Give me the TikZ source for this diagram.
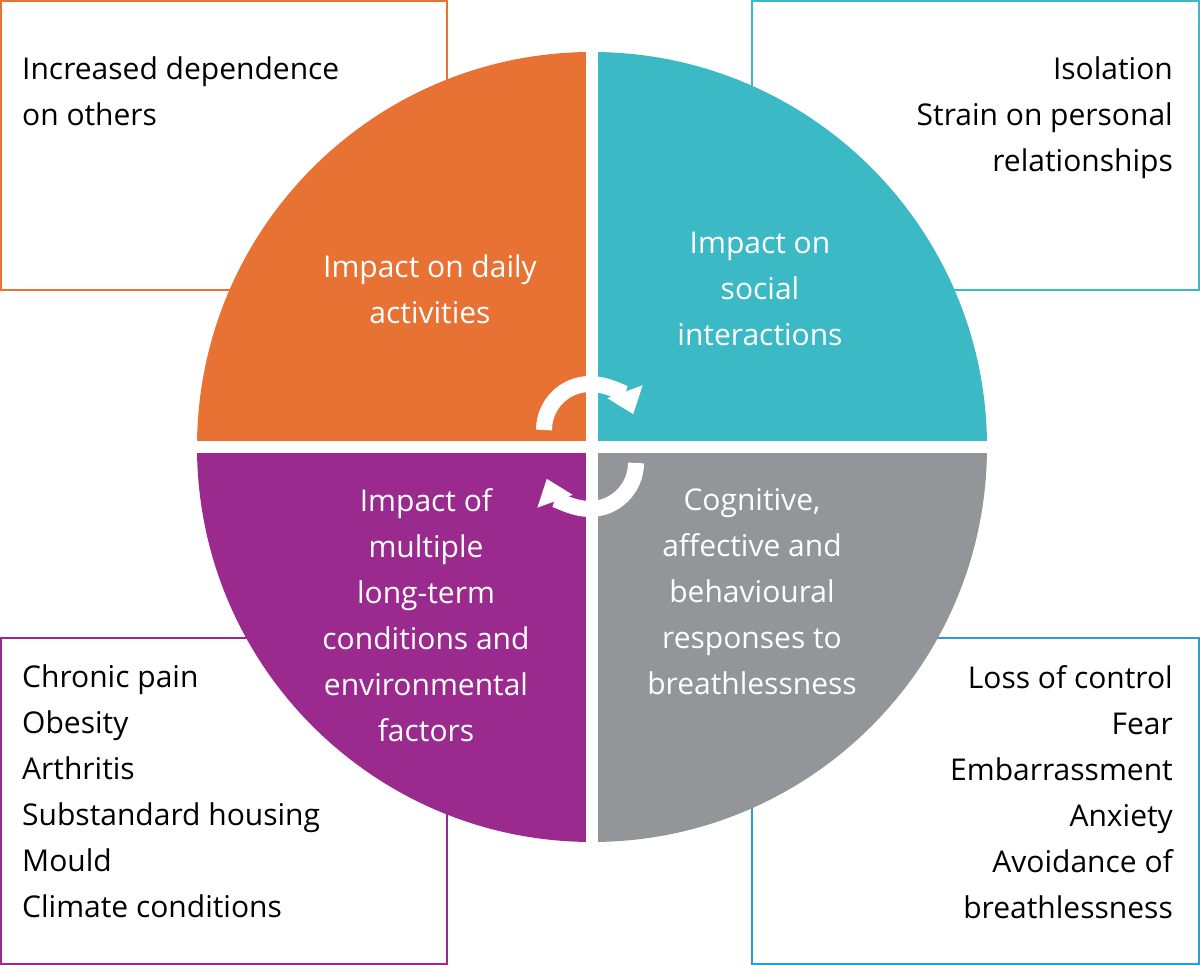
\documentclass[tikz,border=0pt]{standalone}
\usepackage{fontspec}
\setmainfont{Open Sans}
\usetikzlibrary{arrows.meta,calc}
\definecolor{cor}{HTML}{E87234}
\definecolor{cte}{HTML}{3BBAC5}
\definecolor{cpu}{HTML}{9B2A8E}
\definecolor{cgr}{HTML}{939598}
\definecolor{cbl}{HTML}{2A9FD6}
\begin{document}
\begin{tikzpicture}[x=1pt,y=1pt,
  box/.style={draw=#1,line width=2pt,fill=white},
  txt/.style={font=\fontsize{30}{46}\selectfont,inner sep=0pt},
  qt/.style={txt,text=white,align=center},
  arr/.style={white,line width=16pt,-{Triangle[length=24pt,width=36pt]}}]
\useasboundingbox (0,0) rectangle (1200,965);
\draw[box=cor] (1,675) rectangle (447,964);
\draw[box=cte] (752,675) rectangle (1199,964);
\draw[box=cpu] (1,1) rectangle (447,327);
\draw[box=cbl] (752,1) rectangle (1199,327);
\coordinate (c) at (592,518);
\begin{scope}
\clip (c) circle (395);
\fill[cor] (c) rectangle ++(-400,400);
\fill[cte] (c) rectangle ++(400,400);
\fill[cpu] (c) rectangle ++(-400,-400);
\fill[cgr] (c) rectangle ++(400,-400);
\draw[white,line width=12pt] ($(c)+(0,-400)$) -- ++(0,800);
\draw[white,line width=12pt] ($(c)+(-400,0)$) -- ++(800,0);
\end{scope}
\draw[arr] (590,535) ++(180:46) arc (180:20:46);
\draw[arr] (590,502) ++(0:46) arc (0:-160:46);
\node[txt,anchor=north west,align=left] (t1) at (22,908) {Increased dependence\\on others};
\node[txt,anchor=north east,align=right] (t2) at (1173,908) {Isolation\\Strain on personal\\relationships};
\node[txt,anchor=north west,align=left] (t3) at (22,300) {Chronic pain\\Obesity\\Arthritis\\Substandard housing\\Mould\\Climate conditions};
\node[txt,anchor=north east,align=right] (t4) at (1173,300) {Loss of control\\Fear\\Embarrassment\\Anxiety\\Avoidance of\\breathlessness};
\node[qt] (q1) at (430,676) {Impact on daily\\activities};
\node[qt] (q2) at (760,676) {Impact on\\social\\interactions};
\node[qt] (q3) at (426,350) {Impact of\\multiple\\long-term\\conditions and\\environmental\\factors};
\node[qt] (q4) at (752,373) {Cognitive,\\affective and\\behavioural\\responses to\\breathlessness};
\end{tikzpicture}
\end{document}
